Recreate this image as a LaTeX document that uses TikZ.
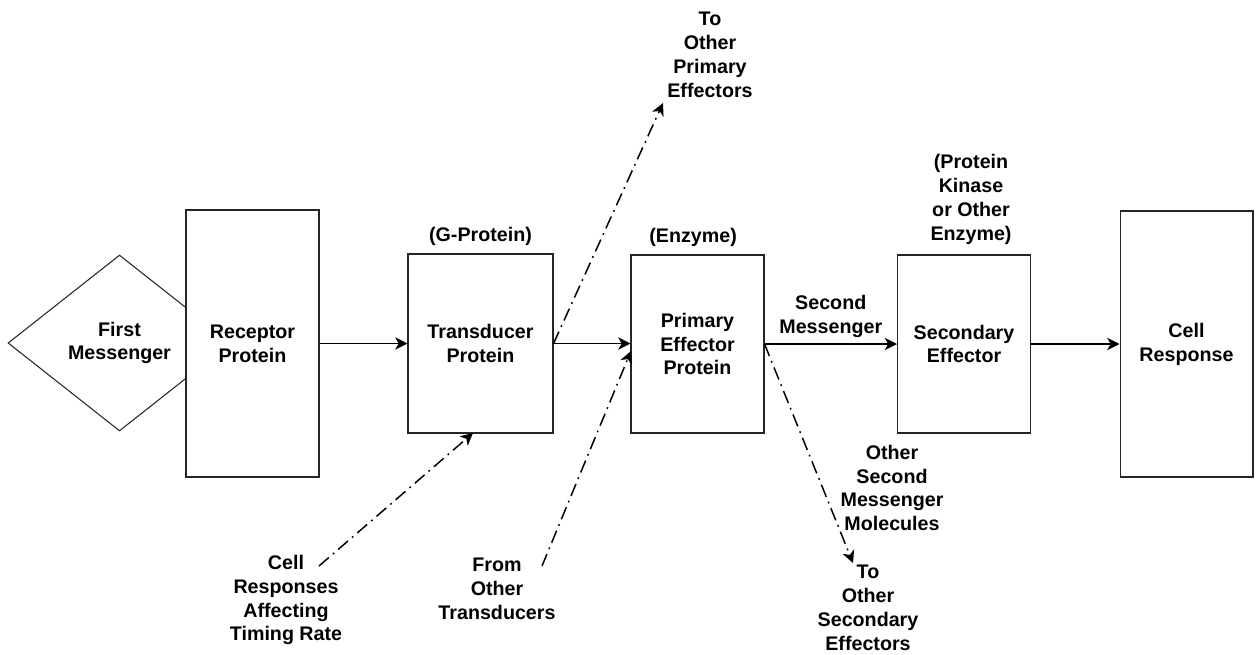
\documentclass[tikz,border=0pt]{standalone}
\usepackage{fontspec}
\setmainfont{Liberation Sans}
\usetikzlibrary{
  arrows.meta,
  positioning,
  shapes.geometric,
}
\newcommand{\lblfont}{\fontsize{11.2}{13.6}\selectfont\bfseries}
\tikzset{
  % Protein box
  box/.style={
    rectangle, draw=black!85, fill=white, line width=0.6pt,
    font=\lblfont, align=center, inner sep=0pt,
  },
  % Free text label
  lab/.style={font=\lblfont, align=center, inner sep=1pt},
  % Main signal arrow
  arr/.style={-{Stealth[length=7pt, width=7pt, inset=2pt]}, line width=0.85pt},
  % Side branch arrow
  arrdd/.style={arr, dash pattern=on 7.4pt off 3pt on 1pt off 3pt},
}

\begin{document}
\begin{tikzpicture}[x=0.02cm, y=-0.02cm]
\useasboundingbox (0,0) rectangle (1256,655);

% ── Signal chain ───────────────────────────────────────────────────────────────
\node[
  diamond, draw=black!85, line width=0.6pt,
  minimum width=4.46cm, minimum height=3.52cm, inner sep=0pt,
  font=\lblfont, align=center,
] (first) at (119.5,343) {First\\Messenger};

\node[box, minimum width=2.66cm, minimum height=5.34cm]
  (receptor) at (252.5,343.5) {Receptor\\Protein};
\node[box, minimum width=2.9cm, minimum height=3.58cm]
  (transducer) at (480.5,343.5) {Transducer\\Protein};
\node[box, minimum width=2.66cm, minimum height=3.56cm]
  (effector) at (697.5,344) {Primary\\Effector\\Protein};
\node[box, minimum width=2.66cm, minimum height=3.56cm]
  (secondary) at (964,344) {Secondary\\Effector};
\node[box, minimum width=2.66cm, minimum height=5.32cm]
  (response) at (1186.5,344) {Cell\\Response};

\draw[arr] (receptor.east) -- (transducer.west);
\draw[arr] (transducer.east) -- (transducer.east -| effector.west);
\draw[arr]
  (effector.east) -- node[lab, above=2pt]{Second\\Messenger} (secondary.west);
\draw[arr] (secondary.east) -- (response.west);

% ── Protein kinds ──────────────────────────────────────────────────────────────
\node[lab, above=3.4pt of transducer] (gprotein) {(G-Protein)};
\node[lab, above=3.4pt of effector, xshift=-2.5pt] (enzyme) {(Enzyme)};
\node[lab, above=4.6pt of secondary, xshift=4pt]
  (kinase) {(Protein\\Kinase\\or Other\\Enzyme)};

% ── Branches ───────────────────────────────────────────────────────────────────
\node[lab] (toPrimary) at (710,55) {To\\Other\\Primary\\Effectors};
\node[lab] (otherMsg) at (892,488) {Other\\Second\\Messenger\\Molecules};
\node[lab] (toSecondary) at (868,608) {To\\Other\\Secondary\\Effectors};
\node[lab] (cellResp) at (286,600) {Cell\\Responses\\Affecting\\Timing Rate};
\node[lab] (fromTrans) at (497,589) {From\\Other\\Transducers};

\coordinate (primTip) at (663,103);
\coordinate (secTip) at (853,563);
\coordinate (cellStart) at (319,566);
\coordinate (cellTip) at (473,433);
\coordinate (fromStart) at (542,566);
\coordinate (fromTip) at (631,351);

\draw[arrdd] (transducer.east) -- (primTip);
\draw[arrdd] (effector.east) -- (secTip);
\draw[arrdd] (cellStart) -- (cellTip);
\draw[arrdd] (fromStart) -- (fromTip);

\end{tikzpicture}
\end{document}
